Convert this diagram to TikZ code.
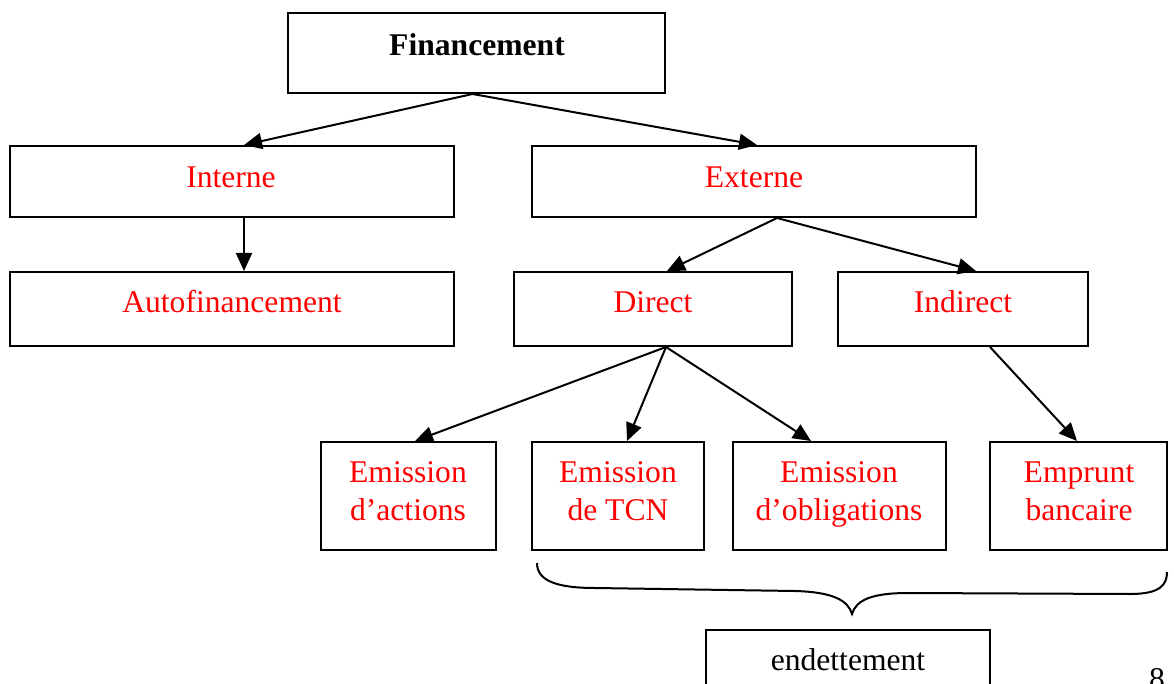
\documentclass[tikz,border=0pt]{standalone}
\usepackage{fontspec}
\setmainfont{Liberation Serif}
\usetikzlibrary{arrows.meta}
\tikzset{
  box/.style={draw, line width=2pt, rectangle, inner sep=0pt},
  lbl/.style={inner sep=0pt, align=center, font=\fontsize{31.6}{38}\selectfont},
  rlbl/.style={lbl, text=red},
  arr/.style={line width=2pt, -{Triangle[length=18pt,width=16pt]}},
  brace/.style={line width=2pt}
}
\begin{document}
\begin{tikzpicture}[x=1pt,y=-1pt]
\useasboundingbox (0,0) rectangle (1174,684);
% boxes
\node[box, minimum width=377, minimum height=80] (fin) at (476.5,53) {};
\node[box, minimum width=444, minimum height=71] (interne) at (232,181.5) {};
\node[box, minimum width=444, minimum height=71] (externe) at (754,181.5) {};
\node[box, minimum width=444, minimum height=74] (auto) at (232,309) {};
\node[box, minimum width=278, minimum height=74] (direct) at (653,309) {};
\node[box, minimum width=250, minimum height=74] (indirect) at (963,309) {};
\node[box, minimum width=175, minimum height=108] (actions) at (408.5,496) {};
\node[box, minimum width=172, minimum height=108] (tcn) at (618,496) {};
\node[box, minimum width=213, minimum height=108] (oblig) at (839.5,496) {};
\node[box, minimum width=177, minimum height=108] (emprunt) at (1078.5,496) {};
\node[box, minimum width=284, minimum height=80] (endet) at (848,670) {};
% texts
\node[lbl, font=\fontsize{31.6}{38}\selectfont\bfseries] (fin-t) at (477,45) {Financement};
\node[rlbl] (interne-t) at (231,177) {Interne};
\node[rlbl] (externe-t) at (754,177) {Externe};
\node[rlbl] (auto-t) at (232,302) {Autofinancement};
\node[rlbl] (direct-t) at (653,302) {Direct};
\node[rlbl] (indirect-t) at (963,302) {Indirect};
\node[rlbl] (actions-t) at (408,491) {Emission\\d’actions};
\node[rlbl] (tcn-t) at (618,491) {Emission\\de TCN};
\node[rlbl] (oblig-t) at (839,494) {Emission\\d’obligations};
\node[rlbl] (emprunt-t) at (1079,491) {Emprunt\\bancaire};
\node[lbl] (endet-t) at (848,660) {endettement};
\node[lbl, anchor=north] (page) at (1157,668) {8};
% arrows
\draw[arr] ([xshift=-4]fin.south) -- ([xshift=235]interne.north west);
\draw[arr] ([xshift=-4]fin.south) -- ([xshift=3]externe.north);
\draw[arr] ([xshift=12]interne.south) -- ([xshift=12]auto.north);
\draw[arr] ([xshift=23]externe.south) -- ([xshift=14]direct.north);
\draw[arr] ([xshift=23]externe.south) -- ([xshift=13]indirect.north);
\draw[arr] ([xshift=13]direct.south) -- ([xshift=6.5]actions.north);
\draw[arr] ([xshift=13]direct.south) -- ([xshift=9]tcn.north);
\draw[arr] ([xshift=13]direct.south) -- ([xshift=-28.5]oblig.north);
\draw[arr] ([xshift=27]indirect.south) -- ([xshift=-1.5]emprunt.north);
% brace
\coordinate (bl) at (537,563);
\coordinate (bt) at (852,614);
\coordinate (br) at (1167,572);
\draw[brace] (bl) .. controls (537,580) and (555,588) .. (595,588)
  -- (795,591) .. controls (832,592) and (848,600) .. (bt)
  .. controls (856,600) and (872,593) .. (908,593)
  -- (1130,594) .. controls (1160,594) and (1167,585) .. (br);
\end{tikzpicture}
\end{document}
